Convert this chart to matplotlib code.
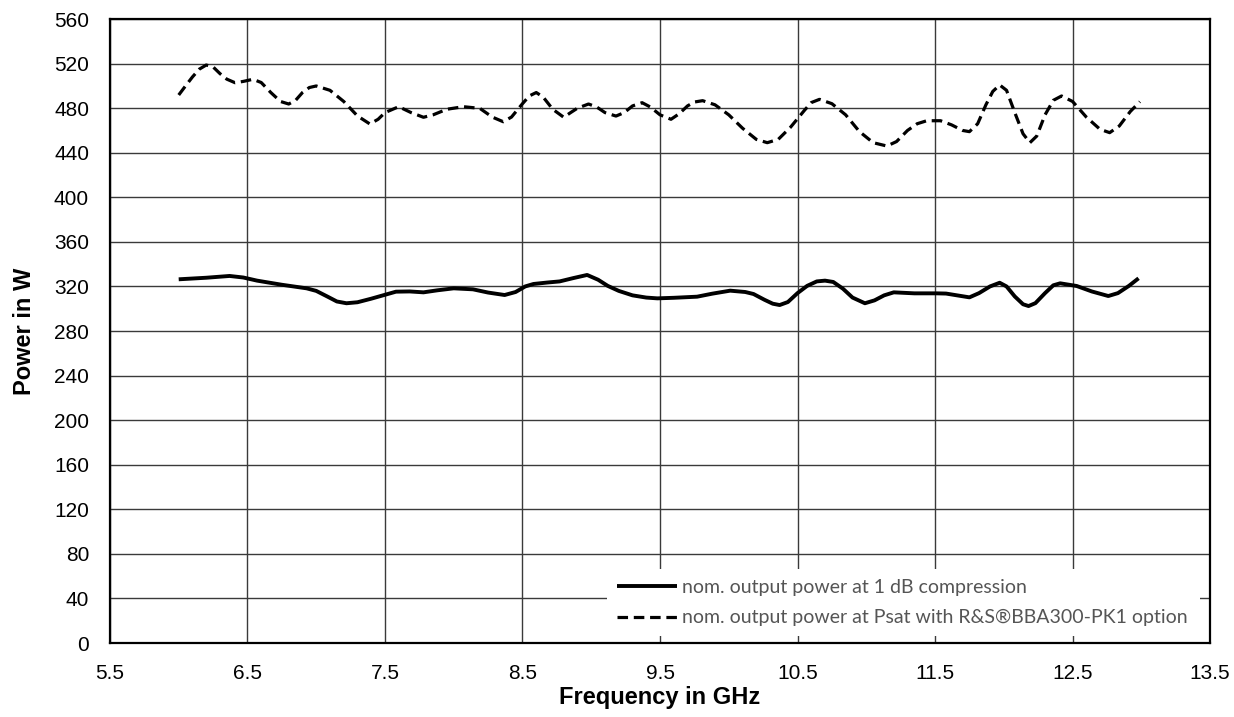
import matplotlib
matplotlib.use("Agg")
import matplotlib.pyplot as plt

# values (Psat curve, dashed)
freq_p1 = [6.00, 6.05, 6.10, 6.15, 6.20, 6.25, 6.30, 6.35, 6.41, 6.47, 6.54,
           6.60, 6.67, 6.74, 6.80, 6.85, 6.90, 6.95, 7.00, 7.10, 7.20, 7.30, 7.39,
           7.45, 7.50, 7.60, 7.69, 7.78, 7.85, 7.95, 8.07, 8.19, 8.28, 8.36,
           8.42, 8.50, 8.55, 8.60, 8.65, 8.72, 8.80, 8.85, 8.90, 8.98, 9.04, 9.10,
           9.18, 9.24, 9.30, 9.37, 9.43, 9.50, 9.58, 9.64, 9.70, 9.75, 9.81,
           9.90, 10.00, 10.10, 10.20, 10.28, 10.36, 10.45, 10.55, 10.60, 10.66,
           10.75, 10.85, 10.95, 11.05, 11.15, 11.22, 11.30, 11.37, 11.44, 11.54,
           11.62, 11.70, 11.75, 11.81, 11.87, 11.92, 11.97, 12.02, 12.08, 12.14,
           12.19, 12.24, 12.30, 12.36, 12.42, 12.50, 12.60, 12.70, 12.77, 12.84,
           12.92, 12.99]
power_p1 = [491.8, 500, 508, 515, 518.7, 517, 511, 506, 502.8, 504, 505.9,
            503, 494, 486, 483.7, 487, 494, 498.5, 499.9, 496, 486, 473, 465.8,
            470, 476, 481.3, 476, 471.8, 474, 479, 481.3, 479.8, 472, 467.8,
            472, 484, 491, 494, 490, 479, 471.8, 476, 480, 483.7, 481, 476,
            472.9, 476, 482, 484.9, 481, 474, 470, 475, 482, 485.5, 486.7,
            483, 474, 462, 452, 449, 452, 463, 478, 485, 487.9,
            484, 474, 459, 449, 446, 450, 460, 466, 468.7, 468.7,
            465, 460, 458.9, 466, 483, 495, 500.8, 496, 476, 457,
            449, 455, 474, 487, 490.9, 486, 472, 461, 458, 464,
            477, 485.8]

# 1 dB compression curve, solid
freq_1db = [6.00, 6.20, 6.37, 6.47, 6.57, 6.75, 6.93, 7.00, 7.08, 7.15, 7.22,
            7.30, 7.40, 7.50, 7.58, 7.68, 7.78, 7.88, 8.00, 8.14, 8.25, 8.37,
            8.45, 8.52, 8.58, 8.68, 8.77, 8.87, 8.97, 9.05, 9.12, 9.20, 9.30,
            9.40, 9.48, 9.60, 9.77, 9.88, 10.01, 10.12, 10.18, 10.26, 10.32,
            10.37, 10.43, 10.50, 10.57, 10.64, 10.70, 10.76, 10.83, 10.90, 10.99,
            11.06, 11.13, 11.20, 11.35, 11.51, 11.58, 11.66, 11.75, 11.82, 11.90,
            11.97, 12.02, 12.08, 12.14, 12.18, 12.23, 12.30, 12.36, 12.41, 12.53,
            12.64, 12.76, 12.83, 12.91, 12.98]
power_1db = [326.4, 327.8, 329.4, 328, 325.2, 321.5, 318.3, 316, 311, 306.5, 304.9,
             305.8, 309, 312.5, 315.3, 315.5, 314.7, 316.5, 318.3, 317.4, 314.5, 312.3,
             315, 320, 322.2, 323.5, 324.5, 327.5, 330.3, 326, 320.5, 316, 312,
             310, 309.3, 309.8, 310.8, 313.5, 316.2, 315, 313.2, 308, 304.5,
             303.3, 306, 314, 320.5, 324.5, 325.2, 324, 318, 310, 304.9,
             307.5, 312, 314.7, 313.8, 313.8, 313.6, 312, 310.2, 314, 320,
             323.3, 320, 311, 304, 302.4, 305, 314, 321, 322.8, 320.4,
             315.5, 311.4, 314, 320.5, 327.3]

x_ticks = [5.5, 6.5, 7.5, 8.5, 9.5, 10.5, 11.5, 12.5, 13.5]
y_ticks = list(range(0, 561, 40))

label_1db = "nom. output power at 1 dB compression"
label_psat = "nom. output power at Psat with R&S\u00aeBBA300-PK1 option"

plt.rcParams['font.family'] = ['Liberation Sans', 'DejaVu Sans']

fig = plt.figure(figsize=(12.34, 7.17), dpi=100)
ax = fig.add_axes([0.0891, 0.1032, 0.8915, 0.8703])

ax.plot(freq_1db, power_1db, color='black', lw=2.8, solid_joinstyle='round',
        solid_capstyle='butt', label=label_1db, zorder=3)
ax.plot(freq_p1, power_p1, color='black', lw=2.3, linestyle=(0, (3.3, 1.8)),
        dash_joinstyle='round', label=label_psat, zorder=3)

ax.set_xlim(5.5, 13.5)
ax.set_ylim(0, 560)
ax.set_xticks(x_ticks)
ax.set_xticklabels([f"{v:g}" for v in x_ticks])
ax.set_yticks(y_ticks)
ax.grid(True, color='#3a3a3a', lw=1.0, zorder=1)
ax.set_axisbelow(True)
ax.tick_params(length=0, labelsize=15)
ax.tick_params(axis='y', pad=15)
ax.tick_params(axis='x', pad=15)
for sp in ax.spines.values():
    sp.set_linewidth(1.6)
    sp.set_color('black')

ax.set_xlabel("Frequency in GHz", fontsize=17, fontweight='bold', labelpad=2)
ax.set_ylabel("Power in W", fontsize=17, fontweight='bold', labelpad=13)

leg = ax.legend(loc='lower left', bbox_to_anchor=(0.452, 0.011, 0.539, 0.11),
                mode='expand', borderaxespad=0, frameon=True, fancybox=False,
                framealpha=1, edgecolor='none', facecolor='white',
                handlelength=3.1, handletextpad=0.26, labelspacing=0.7,
                borderpad=0.5, prop={'family': 'Lato', 'size': 14})
for t in leg.get_texts():
    t.set_color('#555555')
leg.set_zorder(5)

fig.savefig("out.png", dpi=100)
